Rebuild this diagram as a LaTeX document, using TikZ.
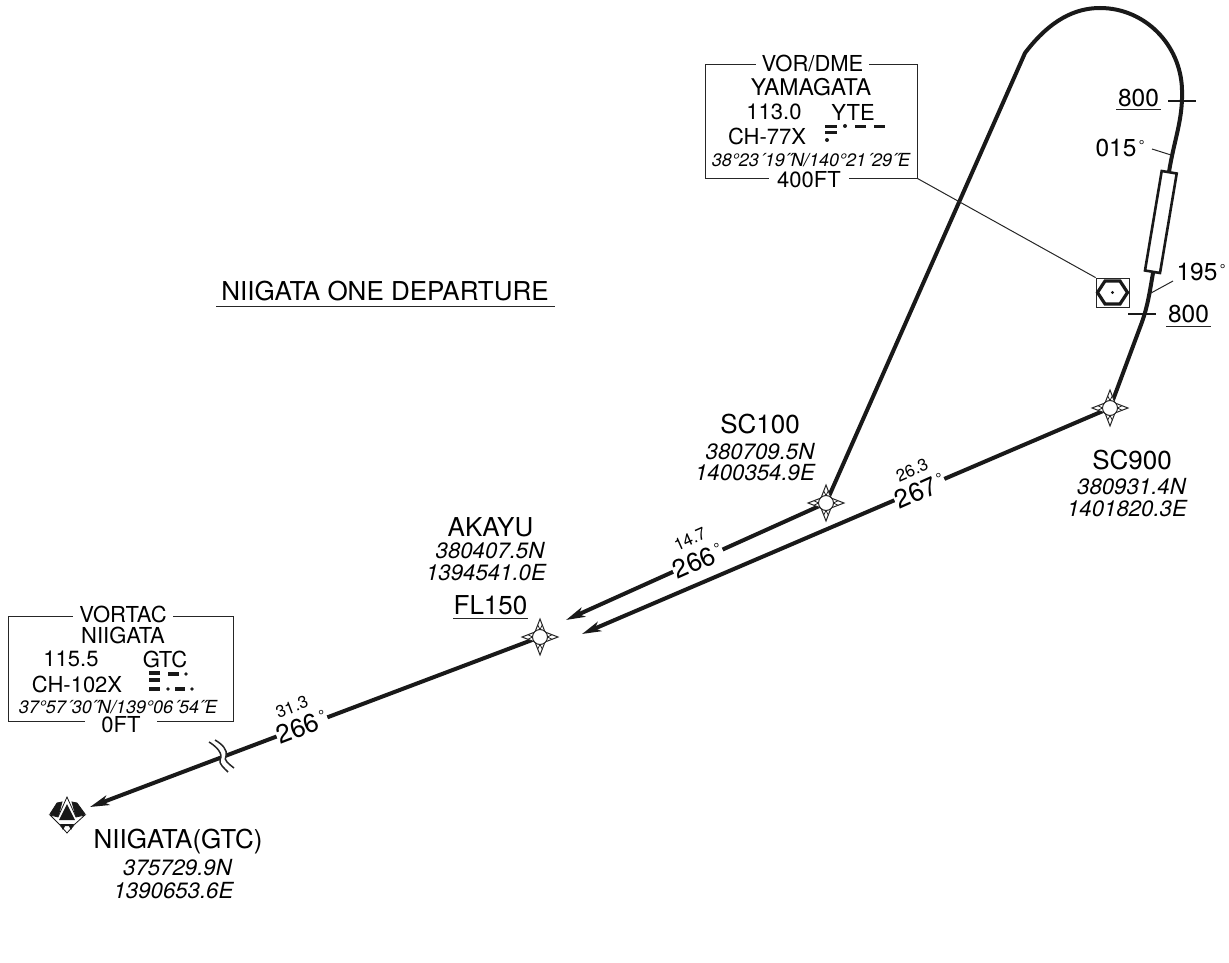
\documentclass[tikz,border=0pt]{standalone}
\usepackage{fontspec}
\setmainfont{TeX Gyre Heros}
\usetikzlibrary{arrows.meta}
\newcommand{\degmark}{\kern.1em\raisebox{.26em}{\scalebox{.58}{°}}}
\tikzset{
	lbl/.style={font=\fontsize{22}{24}\selectfont, inner sep=0pt},
	fixlbl/.style={font=\fontsize{26}{28}\selectfont, inner sep=0pt},
	altlbl/.style={font=\fontsize{24.5}{26}\selectfont, inner sep=0pt},
	coord/.style={font=\fontsize{22.2}{24}\selectfont\itshape, inner sep=0pt},
	boxcoord/.style={font=\fontsize{18}{20}\selectfont\itshape, inner sep=0pt},
	boxgap/.style={lbl, fill=white, inner xsep=6pt, inner ysep=0pt},
	brg/.style={font=\fontsize{26}{28}\selectfont, fill=white, inner xsep=1pt, inner ysep=0pt},
	dist/.style={font=\fontsize{17}{19}\selectfont, inner sep=0pt},
	track/.style={black!90, line width=4pt},
	inbound/.style={track, -{Stealth[length=19pt,width=10pt,inset=5pt]}},
	thin line/.style={black!85, line width=1pt},
	morse/.style={black!90, line width=3pt},
	fixmark/.pic={
		\filldraw[black!85, fill=white, line width=1pt] (18,0) -- (5,-5) -- (0,-18) -- (-5,-5) -- (-18,0) -- (-5,5) -- (0,18) -- (5,5) -- cycle;
		\draw[black!85, line width=.8pt] (7.5,0) -- (12,-2.3) (7.5,0) -- (12,2.3) (-7.5,0) -- (-12,-2.3) (-7.5,0) -- (-12,2.3)
			(0,7.5) -- (-2.3,12) (0,7.5) -- (2.3,12) (0,-7.5) -- (-2.3,-12) (0,-7.5) -- (2.3,-12);
		\filldraw[black!85, fill=white, line width=1pt] (0,0) circle (7.5);
	}
}
\begin{document}
\begin{tikzpicture}[x=1pt, y=-1pt]
	\useasboundingbox (0,0) rectangle (1229,963);

	% fixes
	\coordinate (sc900) at (1110,408);
	\coordinate (sc100) at (826,503);
	\coordinate (akayu) at (540,637);
	\coordinate (niigata) at (67,815);
	\coordinate (tipa) at (582,634);
	\coordinate (tipb) at (566,620);
	\coordinate (tipc) at (90,807);

	% legs
	\draw[inbound] (sc900) -- (tipa);
	\draw[inbound] (sc100) -- (tipb);
	\draw[inbound] (akayu) -- (tipc);
	\draw[track] (sc900) -- (1142,322) .. controls (1148,305) and (1150,290) .. (1153,273) -- (1169,172)
		.. controls (1174,140) and (1183,120) .. (1182,90) .. controls (1181,45) and (1145,8) .. (1100,8)
		.. controls (1075,8) and (1050,20) .. (1025,53) -- (sc100);

	% runway
	\filldraw[black!90, fill=white, line width=2.6pt] (1161.7,171) -- (1176.7,173.5) -- (1160,273) -- (1145,270.5) -- cycle;

	% leg labels
	\node[brg, rotate=24] (brgb) at (698,561) {266\degmark};
	\node[dist, rotate=24] (distb) at (690,539) {14.7};
	\node[brg, rotate=24] (brga) at (920,491) {267\degmark};
	\node[dist, rotate=24] (dista) at (912,470) {26.3};
	\node[brg, rotate=21] (brgc) at (302,727) {266\degmark};
	\node[dist, rotate=21] (distc) at (292,707) {31.3};

	% break in the last leg
	\fill[white] (209,742) .. controls (222,750) and (222,757) .. (220,760) .. controls (219,764) and (224,768) .. (228,772)
		-- (234,768) .. controls (229,764) and (223,760) .. (226,756) .. controls (228,750) and (222,744) .. (215,740) -- cycle;
	\draw[black!85, line width=1.5pt] (209,742) .. controls (222,750) and (222,757) .. (220,760) .. controls (219,764) and (224,768) .. (228,772);
	\draw[black!85, line width=1.5pt] (215,740) .. controls (222,744) and (228,750) .. (226,756) .. controls (223,760) and (229,764) .. (234,768);

	% waypoints
	\pic at (sc900) {fixmark};
	\pic at (sc100) {fixmark};
	\pic at (akayu) {fixmark};

	% airport
	\filldraw[black!90, line width=.8pt] (50,814) -- (57,803) -- (62,802) -- (58,817) -- cycle;
	\filldraw[black!90, line width=.8pt] (85,814) -- (77,803) -- (72,802) -- (76,817) -- cycle;
	\filldraw[black!90, fill=white, line width=.8pt] (67,797) -- (76,817) -- (85,815) -- (75,824) -- (67,833) -- (59,824) -- (50,815) -- (58,817) -- cycle;
	\fill[black!90] (67,804) -- (75,820) -- (59,820) -- cycle;
	\fill[black!90] (60,824) -- (74,824) -- (71,830) -- (69,826) -- (65,826) -- (63,830) -- cycle;

	% altitude marks
	\draw[black!90, line width=1.3pt] (1168,101) -- (1196,101);
	\draw[black!90, line width=1.3pt] (1128,314) -- (1156,314);
	\node[altlbl] (altb) at (1138.5,98) {800};
	\draw[thin line] (1116,110) -- (1161,110);
	\node[altlbl] (alta) at (1188.5,314) {800};
	\draw[thin line] (1166,326) -- (1211,326);

	% course labels
	\node[altlbl] (crsa) at (1120,148) {015\degmark};
	\draw[thin line] (1152,149) -- (1171,155);
	\node[altlbl] (crsb) at (1201,272) {195\degmark};
	\draw[thin line] (1173,281) -- (1151,293);

	% title
	\node[fixlbl] (title) at (385,291) {NIIGATA ONE DEPARTURE};
	\draw[thin line] (216,306) -- (555,306);

	% waypoint texts
	\node[fixlbl] (sconet) at (760,424) {SC100};
	\node[coord] at (760,452) {380709.5N};
	\node[coord] at (755,473) {1400354.9E};
	\node[fixlbl] (scnine) at (1132,460) {SC900};
	\node[coord] at (1131.5,487) {380931.4N};
	\node[coord] at (1127,509) {1401820.3E};
	\node[fixlbl] (akayut) at (490.5,527) {AKAYU};
	\node[coord] at (490,551) {380407.5N};
	\node[coord] at (486,573) {1394541.0E};
	\node[fixlbl] (flevel) at (490.5,605) {FL150};
	\draw[thin line] (453,618) -- (528,618);
	\node[fixlbl] (niit) at (178,842) {NIIGATA(GTC)};
	\node[coord] at (177.5,868) {375729.9N};
	\node[coord] at (173.5,891) {1390653.6E};

	% VOR/DME box
	\node[draw, thin line, minimum width=212pt, minimum height=113pt, inner sep=0pt] (vorbox) at (811,121.5) {};
	\coordinate (vorsym) at (1112.5,292.5);
	\node[draw, black!85, line width=.8pt, minimum width=33pt, minimum height=29pt, inner sep=0pt] (vorsq) at (vorsym) {};
	\draw[thin line] (vorbox.south east) -- (vorsq.north west);
	\draw[black!90, line width=3.2pt] (1097.5,292.5) -- (1105,281) -- (1120,281) -- (1127.5,292.5) -- (1120,304) -- (1105,304) -- cycle;
	\fill[black!90] (vorsym) circle (1.6);
	\node[boxgap] at (812.5,64) {VOR/DME};
	\node[font=\fontsize{23}{25}\selectfont, inner sep=0pt] at (811,87) {YAMAGATA};
	\node[lbl] at (774,112) {113.0};
	\node[lbl] at (853,112) {YTE};
	\node[lbl] at (767,136) {CH-77X};
	\draw[morse] (825,127) -- (837,127) (825,132.5) -- (837,132.5);
	\fill[black!90] (827,140) circle (2) (845,126) circle (2);
	\draw[morse] (855,127) -- (866,127) (874,127) -- (885,127);
	\node[boxcoord] at (811,160) {38°23´19˝N/140°21´29˝E};
	\node[boxgap, inner xsep=8pt] at (809,180) {400FT};

	% VORTAC box
	\node[draw, thin line, minimum width=225pt, minimum height=105pt, inner sep=0pt] (vortacbox) at (120.5,668.5) {};
	\node[boxgap] at (123,614) {VORTAC};
	\node[lbl] at (123,635) {NIIGATA};
	\node[lbl] at (71,659) {115.5};
	\node[lbl] at (165,659) {GTC};
	\node[lbl] at (77,684) {CH-102X};
	\draw[morse, line width=3.4pt] (149,673) -- (160,673) (149,680) -- (160,680) (149,689) -- (160,689)
		(168,674) -- (179,674) (175,689) -- (185,689);
	\fill[black!90] (186,674) circle (1.9) (168,689) circle (1.9) (192,689) circle (1.9);
	\node[boxcoord] at (118,707) {37°57´30˝N/139°06´54˝E};
	\node[boxgap, inner xsep=16pt] at (121,725) {0FT};
\end{tikzpicture}
\end{document}
